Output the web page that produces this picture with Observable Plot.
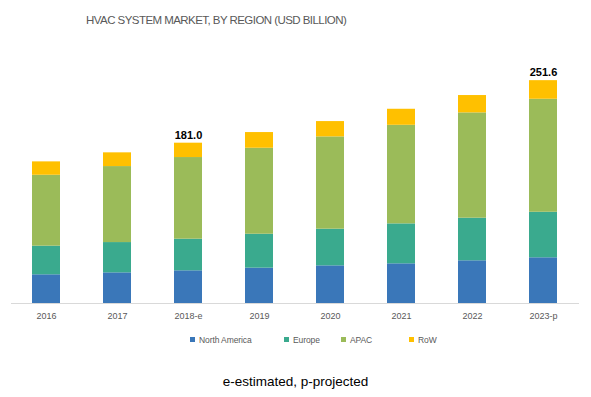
<!DOCTYPE html>
<html>
<head>
<meta charset="utf-8">
<script src="https://cdn.jsdelivr.net/npm/d3@7"></script>
<script src="https://cdn.jsdelivr.net/npm/@observablehq/plot@0.6"></script>
<style>
  html, body { margin: 0; padding: 0; background: #fff; }
  body { width: 591px; height: 397px; overflow: hidden; font-family: "Liberation Sans", Arial, sans-serif; }
  #title { height: 40px; line-height: 40px; padding-left: 86px; font-size: 11.5px; color: #595959; letter-spacing: -0.55px; white-space: nowrap; }
  #chart svg { display: block; }
  #legend { position: relative; height: 30px; font-size: 8.5px; color: #595959; letter-spacing: -0.1px; }
  #legend .item { position: absolute; top: 0; line-height: 30px; white-space: nowrap; }
  #legend .sw { display: inline-block; width: 5px; height: 5px; margin-right: 4px; vertical-align: middle; position: relative; top: -1px; }
  #caption { height: 54px; line-height: 54px; text-align: center; font-size: 13.5px; color: #000; }
</style>
</head>
<body>
<div id="title">HVAC SYSTEM MARKET, BY REGION (USD BILLION)</div>
<div id="chart"></div>
<div id="legend"></div>
<div id="caption">e-estimated, p-projected</div>
<script>
const years = ["2016", "2017", "2018-e", "2019", "2020", "2021", "2022", "2023-p"];
const regions = ["North America", "Europe", "APAC", "RoW"];
const northAmerica = [32.4, 34.6, 36.9, 39.9, 42.5, 44.8, 48.2, 51.6];
const europe = [32.3, 34.2, 35.7, 38.3, 41.4, 45.1, 48.1, 51.4];
const apac = [80.1, 85.8, 92.2, 97.1, 104.2, 111.3, 118.9, 127.6];
const rowValues = [15.1, 15.5, 16.2, 17.7, 17.3, 18.1, 19.6, 21.0];
const labeledYears = ["2018-e", "2023-p"];
const colors = ["#3a77b9", "#3aaa8e", "#9bbb59", "#ffc000"];

const series = [northAmerica, europe, apac, rowValues];
const table = [];
years.forEach((yr, i) => {
  regions.forEach((r, k) => table.push({year: yr, region: r, value: series[k][i]}));
});
const totals = years.map((yr, i) => ({year: yr, total: series.reduce((s, a) => s + a[i], 0)}));
const labels = totals.filter(d => labeledYears.includes(d.year));

const chart = Plot.plot({
  width: 591,
  height: 285,
  marginLeft: 11,
  marginRight: 12,
  marginTop: 15,
  marginBottom: 22,
  style: {fontFamily: "'Liberation Sans', Arial, sans-serif", background: "#fff"},
  x: {domain: years, paddingInner: 0.6, paddingOuter: 0.3, label: null, tickSize: 0, tickPadding: 9},
  y: {domain: [0, 280], axis: null},
  color: {domain: regions, range: colors},
  marks: [
    Plot.barY(table, {x: "year", y: "value", fill: "region", order: regions}),
    Plot.ruleY([0], {stroke: "#d9d9d9", strokeWidth: 1}),
    Plot.text(labels, {x: "year", y: "total", text: d => d.total.toFixed(1), dy: -8, fontSize: 11, fontWeight: "bold", fill: "#000"})
  ]
});
const xa = chart.querySelector('g[aria-label="x-axis tick label"]');
if (xa) { xa.setAttribute("font-size", "9"); xa.setAttribute("fill", "#595959"); }
document.getElementById("chart").appendChild(chart);

const legendLefts = [190, 284, 341, 409];
const legend = document.getElementById("legend");
regions.forEach((r, k) => {
  const it = document.createElement("span");
  it.className = "item";
  it.style.left = legendLefts[k] + "px";
  const sw = document.createElement("span");
  sw.className = "sw";
  sw.style.background = colors[k];
  it.appendChild(sw);
  it.appendChild(document.createTextNode(r));
  legend.appendChild(it);
});
</script>
</body>
</html>
